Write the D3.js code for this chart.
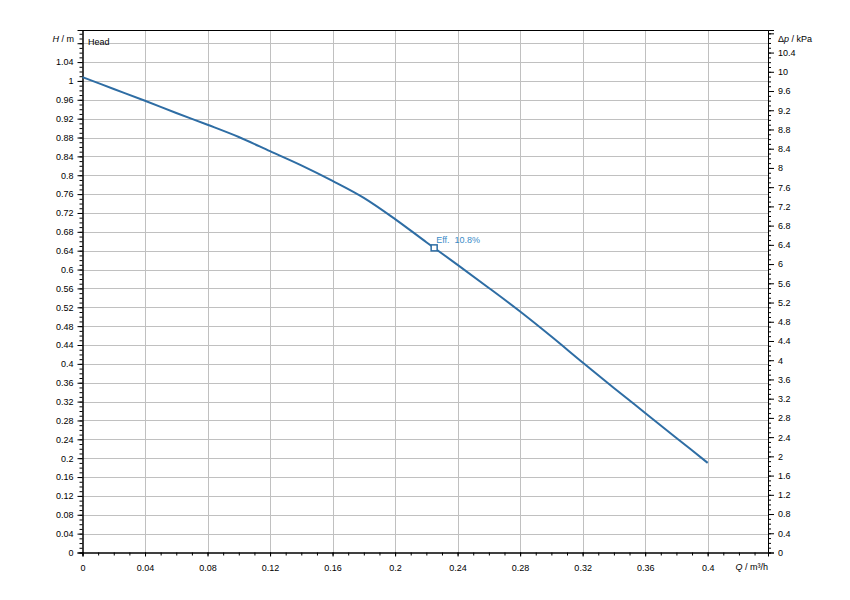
<!DOCTYPE html>
<html>
<head>
<meta charset="utf-8">
<script src="https://cdn.jsdelivr.net/npm/d3@7"></script>
<style>
  html, body { margin: 0; padding: 0; background: #fff; }
  svg { display: block; }
  text { font-family: "Liberation Sans", Arial, sans-serif; font-size: 9px; fill: #000; }
</style>
</head>
<body>
<svg id="chart" width="850" height="600"></svg>
<script>
// ---- data ----
const flowQ  = [0, 0.02, 0.04, 0.06, 0.08, 0.10, 0.12, 0.14, 0.16, 0.18, 0.20, 0.22, 0.24, 0.26, 0.28, 0.30, 0.32, 0.34, 0.36, 0.38, 0.40];
const headH  = [1.008, 0.983, 0.958, 0.932, 0.907, 0.881, 0.851, 0.821, 0.788, 0.752, 0.707, 0.658, 0.610, 0.561, 0.511, 0.458, 0.403, 0.349, 0.296, 0.243, 0.190];
const effPointQ = [0.225];
const effPointH = [0.646];
const effLabel = ["Eff.  10.8%"];
const xTicks = [0, 0.04, 0.08, 0.12, 0.16, 0.2, 0.24, 0.28, 0.32, 0.36, 0.4];
const yTicks = [0, 0.04, 0.08, 0.12, 0.16, 0.2, 0.24, 0.28, 0.32, 0.36, 0.4, 0.44, 0.48, 0.52, 0.56, 0.6, 0.64, 0.68, 0.72, 0.76, 0.8, 0.84, 0.88, 0.92, 0.96, 1, 1.04];
const yGridTicks = [...yTicks, 1.08];
const pTicks = [0, 0.4, 0.8, 1.2, 1.6, 2, 2.4, 2.8, 3.2, 3.6, 4, 4.4, 4.8, 5.2, 5.6, 6, 6.4, 6.8, 7.2, 7.6, 8, 8.4, 8.8, 9.2, 9.6, 10, 10.4];
const kPaPerMetre = 9.81;

// ---- layout ----
const L = 82.5, R = 768, T = 30, B = 552.5;
const xMax = 0.4386, yMax = 1.108;

const svg = d3.select("#chart");
const x = d3.scaleLinear().domain([0, xMax]).range([L, R]);
const y = d3.scaleLinear().domain([0, yMax]).range([B, T]);
const yp = d3.scaleLinear().domain([0, yMax * kPaPerMetre]).range([B, T]);

// grid
const grid = svg.append("g").attr("stroke", "#c0c0c0").attr("stroke-width", 1).attr("shape-rendering", "crispEdges");
grid.selectAll(".gx").data(xTicks.slice(1)).enter().append("line")
  .attr("x1", d => Math.round(x(d)) + 0.5).attr("x2", d => Math.round(x(d)) + 0.5)
  .attr("y1", T).attr("y2", B);
grid.selectAll(".gy").data(yGridTicks.slice(1)).enter().append("line")
  .attr("y1", d => Math.round(y(d)) + 0.5).attr("y2", d => Math.round(y(d)) + 0.5)
  .attr("x1", L).attr("x2", R);

// minor tick helper
function range(a, b, s) { const out = []; for (let v = a; v <= b + 1e-9; v += s) out.push(+v.toFixed(4)); return out; }

// axes
const fmt = d => String(+d.toFixed(2));
const axL = svg.append("g").attr("transform", `translate(${L},0)`);
axL.call(d3.axisLeft(y).tickValues(range(0, 1.1, 0.01)).tickSize(3).tickFormat(""));
axL.append("g").call(d3.axisLeft(y).tickValues([...yTicks, 1.08]).tickSize(5).tickPadding(4).tickFormat(d => d === 1.08 ? "" : fmt(d)));

const axR = svg.append("g").attr("transform", `translate(${R},0)`);
axR.call(d3.axisRight(yp).tickValues(range(0, 10.8, 0.1)).tickSize(3).tickFormat(""));
axR.append("g").call(d3.axisRight(yp).tickValues([...pTicks, 10.8]).tickSize(6).tickPadding(4).tickFormat(d => d === 10.8 ? "" : fmt(d)));

const axB = svg.append("g").attr("transform", `translate(0,${B})`);
axB.call(d3.axisBottom(x).tickValues(range(0, 0.43, 0.01)).tickSize(3).tickFormat(""));
axB.append("g").call(d3.axisBottom(x).tickValues(xTicks).tickSize(4).tickPadding(8).tickFormat(fmt));

svg.selectAll(".domain").attr("stroke", "#000");
svg.selectAll(".tick line").attr("stroke", "#000");
svg.selectAll(".tick text").attr("font-size", 9).attr("font-family", "Liberation Sans, Arial, sans-serif").attr("fill", "#000");

// top frame
svg.append("line").attr("x1", L).attr("x2", R).attr("y1", T + 0.5).attr("y2", T + 0.5)
  .attr("stroke", "#000").attr("shape-rendering", "crispEdges");

// axis titles
const tH = svg.append("text").attr("x", 74).attr("y", 42).attr("text-anchor", "end");
tH.append("tspan").attr("font-style", "italic").text("H");
tH.append("tspan").text(" / m");
svg.append("text").attr("x", 88).attr("y", 45).text("Head");
const tP = svg.append("text").attr("x", 778).attr("y", 42);
tP.append("tspan").text("\u0394");
tP.append("tspan").attr("font-style", "italic").text("p");
tP.append("tspan").text(" / kPa");
const tQ = svg.append("text").attr("x", R).attr("y", 570).attr("text-anchor", "end");
tQ.append("tspan").attr("font-style", "italic").text("Q");
tQ.append("tspan").text(" / m\u00b3/h");

// curve
const pts = flowQ.map((q, i) => [q, headH[i]]);
const line = d3.line().x(d => x(d[0])).y(d => y(d[1])).curve(d3.curveMonotoneX);
svg.append("path").datum(pts).attr("d", line)
  .attr("fill", "none").attr("stroke", "#2e6da4").attr("stroke-width", 2);

// efficiency marker
svg.selectAll(".eff").data(effPointQ).enter().append("rect")
  .attr("x", (d) => x(d) - 3).attr("y", (d, i) => y(effPointH[i]) - 3)
  .attr("width", 6).attr("height", 6)
  .attr("fill", "#fff").attr("stroke", "#2e6da4").attr("stroke-width", 1.5);
svg.selectAll(".efft").data(effPointQ).enter().append("text")
  .attr("x", d => x(d) + 2).attr("y", (d, i) => y(effPointH[i]) - 5)
  .attr("fill", "#3a8cc8").style("fill", "#3a8cc8").attr("xml:space", "preserve")
  .style("white-space", "pre")
  .text((d, i) => effLabel[i]);
</script>
</body>
</html>
